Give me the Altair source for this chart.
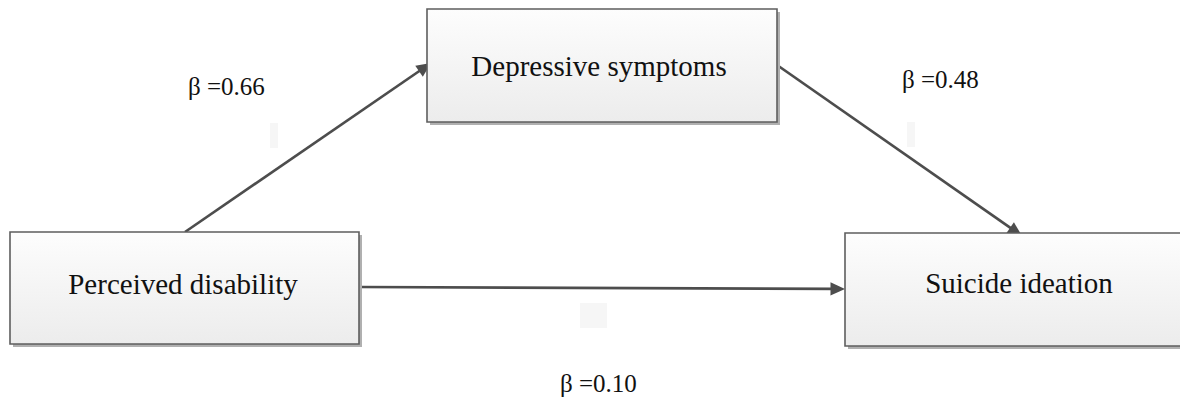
import altair as alt
import numpy as np
import pandas as pd

# ---- diagram content (image pixel coordinates) ----
node_names = ["Depressive symptoms", "Perceived disability", "Suicide ideation"]
node_x0 = [427, 10, 845]
node_x1 = [777, 359, 1240]
node_y0 = [9, 232, 233]
node_y1 = [122, 344, 346]
node_label_x = [599, 183, 1019]
node_label_y = [76, 294, 293]

path_from = ["Perceived disability", "Depressive symptoms", "Perceived disability"]
path_to = ["Depressive symptoms", "Suicide ideation", "Suicide ideation"]
path_x0 = [185, 777, 359]
path_y0 = [232, 65, 287]
path_x1 = [431, 1022, 845]
path_y1 = [63, 236, 289]

coef_text = ["β =0.66", "β =0.48", "β =0.10"]
coef_x = [188, 902, 560]
coef_y = [95, 88, 392]

ghost_x0 = [270, 907, 580]
ghost_x1 = [278, 915, 607]
ghost_y0 = [123, 122, 303]
ghost_y1 = [148, 147, 328]

# ---- tables ----
nodes = pd.DataFrame({"name": node_names, "x": node_x0, "x2": node_x1,
                      "y": node_y0, "y2": node_y1,
                      "lx": node_label_x, "ly": node_label_y})

HEAD_LEN = 14.5
p = pd.DataFrame({"src": path_from, "dst": path_to, "x0": path_x0, "y0": path_y0,
                  "tx": path_x1, "ty": path_y1})
dx = p["tx"] - p["x0"]
dy = p["ty"] - p["y0"]
dist = np.hypot(dx, dy)
p["ux"] = dx / dist
p["uy"] = dy / dist
p["ex"] = p["tx"] - p["ux"] * HEAD_LEN * 0.7
p["ey"] = p["ty"] - p["uy"] * HEAD_LEN * 0.7
p["ang"] = np.degrees(np.arctan2(dx, -dy)) % 360

coefs = pd.DataFrame({"t": coef_text, "x": coef_x, "y": coef_y})
ghosts = pd.DataFrame({"x": ghost_x0, "x2": ghost_x1, "y": ghost_y0, "y2": ghost_y1})

xs = alt.Scale(domain=[8, 1180], nice=False, zero=False)
ys = alt.Scale(domain=[8, 397], nice=False, zero=False, reverse=True)

LINE = "#4d4d4d"

ghost_layer = alt.Chart(ghosts).mark_rect(color="#f6f6f6").encode(
    x=alt.X("x:Q", scale=xs, axis=None), x2="x2:Q",
    y=alt.Y("y:Q", scale=ys, axis=None), y2="y2:Q")

lines = alt.Chart(p).mark_rule(color=LINE, strokeWidth=2.7).encode(
    x=alt.X("x0:Q", scale=xs, axis=None), y=alt.Y("y0:Q", scale=ys, axis=None),
    x2="ex:Q", y2="ey:Q")

heads = alt.Chart(p).mark_point(
    shape="M0,0L0.46,1L-0.46,1Z", filled=True, fill=LINE, opacity=1,
    strokeWidth=0, size=(2 * HEAD_LEN) ** 2).encode(
    x=alt.X("tx:Q", scale=xs, axis=None), y=alt.Y("ty:Q", scale=ys, axis=None),
    angle=alt.Angle("ang:Q", scale=None))

shadow = alt.Chart(nodes).mark_rect(
    color="#b0b0b0", xOffset=3, x2Offset=3, yOffset=3, y2Offset=3).encode(
    x=alt.X("x:Q", scale=xs, axis=None), x2="x2:Q",
    y=alt.Y("y:Q", scale=ys, axis=None), y2="y2:Q")

grad = alt.Gradient(
    gradient="linear",
    stops=[alt.GradientStop(color="#fdfdfd", offset=0),
           alt.GradientStop(color="#ececec", offset=1)],
    x1=0, x2=0, y1=0, y2=1)

boxes = alt.Chart(nodes).mark_rect(fill=grad, stroke="#5e5e5e", strokeWidth=1.6).encode(
    x=alt.X("x:Q", scale=xs, axis=None), x2="x2:Q",
    y=alt.Y("y:Q", scale=ys, axis=None), y2="y2:Q")

labels = alt.Chart(nodes).mark_text(
    font="Liberation Serif", fontSize=29, align="center", baseline="alphabetic",
    color="#111111").encode(
    x=alt.X("lx:Q", scale=xs, axis=None), y=alt.Y("ly:Q", scale=ys, axis=None),
    text="name:N")

coef_layer = alt.Chart(coefs).mark_text(
    font="Liberation Serif", fontSize=25, align="left", baseline="alphabetic",
    color="#111111").encode(
    x=alt.X("x:Q", scale=xs, axis=None), y=alt.Y("y:Q", scale=ys, axis=None),
    text="t:N")

chart = alt.layer(ghost_layer, lines, heads, shadow, boxes, labels, coef_layer).properties(
    width=1172, height=389, padding=0,
    autosize=alt.AutoSizeParams(type="none"),
    background="white",
).configure_view(stroke=None)

chart.save("out.html", embed_options={"renderer": "svg", "actions": False})
